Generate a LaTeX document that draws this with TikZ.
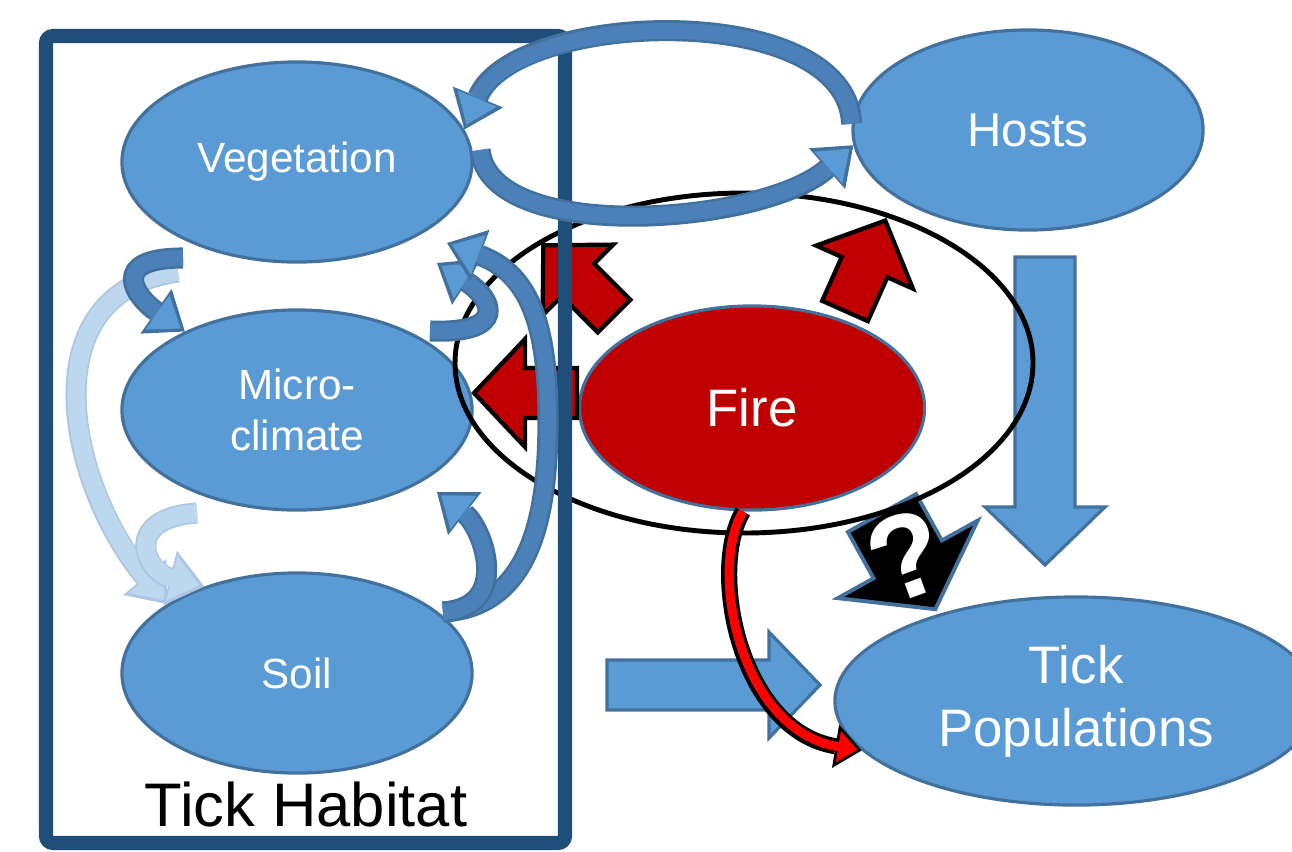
\documentclass[tikz,border=0pt]{standalone}
\usepackage{fontspec}
\setmainfont{Liberation Sans}
\usetikzlibrary{arrows.meta,shapes.geometric}
\definecolor{tickblue}{RGB}{91,155,213}
\definecolor{edgeblue}{RGB}{65,113,156}
\definecolor{bandblue}{RGB}{76,128,184}
\definecolor{boxblue}{RGB}{31,78,121}
\definecolor{firered}{RGB}{192,0,0}
\definecolor{flamered}{RGB}{255,0,0}
\definecolor{paleblue}{RGB}{189,215,238}
\definecolor{paleedge}{RGB}{172,199,228}
\tikzset{
    factor/.style={ellipse,draw=edgeblue,fill=tickblue,line width=0.9pt,text=white,align=center,
        inner sep=0pt,minimum width=3.5cm,minimum height=2cm,font=\fontsize{12}{14.5}\selectfont},
    firenode/.style={factor,fill=firered,minimum width=3.45cm,minimum height=2.04cm,font=\fontsize{15}{18}\selectfont},
    firering/.style={draw=black,line width=1.4pt},
    habitatbox/.style={draw=boxblue,line width=4pt,rounded corners=2pt},
    redblock/.style={fill=firered,draw=black,line width=1.2pt},
    blueblock/.style={fill=tickblue,draw=edgeblue,line width=0.9pt},
    askblock/.style={fill=black,draw=edgeblue,line width=1.1pt},
    feedback/.style={draw=bandblue,line width=4.5pt,shorten >=1.5pt,
        -{Triangle[width=12pt,length=8pt,line width=0pt,fill=tickblue]},
        preaction={draw=edgeblue,line width=6pt,shorten >=0pt,-{Triangle[width=15.5pt,length=10pt,line width=0pt]}}},
    paleloop/.style={draw=paleblue,line width=5pt,shorten >=1.5pt,
        -{Triangle[width=13pt,length=8pt,line width=0pt]},
        preaction={draw=paleedge,line width=6pt,shorten >=0pt,-{Triangle[width=16pt,length=10pt,line width=0pt]}}},
    burn/.style={draw=flamered,line width=2.6pt,shorten >=1.2pt,
        -{Triangle[width=9pt,length=5.5pt,line width=0pt]},
        preaction={draw=black,line width=4.6pt,shorten >=0pt,-{Triangle[width=12.5pt,length=7.5pt,line width=0pt]}}}
}
% style, tail, angle, length, half shaft, half head, head length
\newcommand{\blockarrow}[7]{%
    \draw[#1,shift={#2},rotate=#3] (0,-#5) -- (#4-#7,-#5) -- (#4-#7,-#6) -- (#4,0)
        -- (#4-#7,#6) -- (#4-#7,#5) -- (0,#5) -- cycle;}

\begin{document}
\begin{tikzpicture}[x=0.01cm,y=-0.01cm]
    \useasboundingbox (0,0) rectangle (1292,851);
    \clip (0,0) rectangle (1292,851);
    % Habitat factors
    \node[factor] (veg) at (297,162) {Vegetation};
    \node[factor] (micro) at (297,410) {Micro-\\climate};
    \node[factor] (soil) at (297,673) {Soil};
    % Hosts, fire, ticks
    \node[factor,font=\fontsize{13.5}{16}\selectfont] (hosts) at (1028,130) {Hosts};
    \node[firenode] (fire) at (752,408) {Fire};
    \node[factor,minimum width=4.82cm,minimum height=2.08cm,font=\fontsize{15}{18}\selectfont] (ticks) at (1076,701) {Tick\\Populations};
    % Block arrows
    \blockarrow{blueblock}{(1045,257)}{-90}{308}{30}{60}{58}
    \blockarrow{blueblock}{(607,685)}{0}{213}{25}{53}{51}
    \blockarrow{askblock}{(882,513)}{-61}{110}{39}{80}{57}
    \node[text=white,rotate=20,font=\bfseries\fontsize{34}{34}\selectfont] (ask) at (907,556) {?};
    % Fire effects
    \draw[firering] (744,363) ellipse (289 and 170);
    \blockarrow{redblock}{(577,393)}{180}{103}{25}{54}{51}
    \blockarrow{redblock}{(614,316)}{135}{100}{23}{50}{49}
    \blockarrow{redblock}{(845,311)}{66}{99}{25}{53}{51}
    % Habitat frame
    \draw[habitatbox] (46,36) rectangle (565,843);
    \node[font=\fontsize{17.5}{21}\selectfont] (habitatlabel) at (306,804) {Tick Habitat};
    % Feedback loops
    \coordinate (vegL) at (183,258);
    \coordinate (vegLL) at (178,272);
    \coordinate (microL) at (197,513);
    \coordinate (microR) at (430,331);
    \coordinate (microB) at (437,492);
    \coordinate (soilR) at (443,612);
    \coordinate (vegA) at (437,263);
    \coordinate (vegB) at (447,243);
    \coordinate (vegE) at (480,150);
    \draw[paleloop] (vegLL) .. controls +(-150,20) and +(-100,-120) .. (soil.152);
    \draw[paleloop] (microL) .. controls +(-75,5) and +(-60,-15) .. (soil.137);
    \draw[feedback] (vegL) .. controls +(-75,0) and +(-50,-35) .. (micro.145);
    \draw[feedback] (microR) .. controls +(80,3) and +(55,35) .. (vegA);
    \draw[feedback] (soilR) .. controls +(90,-5) and +(0,90) .. (548,420) .. controls +(0,-100) and +(80,30) .. (vegB);
    \draw[feedback] (soilR) .. controls +(70,-5) and +(45,35) .. (microB);
    \draw[feedback] (hosts.178) .. controls +(-5,-125) and +(50,-120) .. (veg.11);
    \draw[feedback] (vegE) .. controls +(10,95) and +(-90,80) .. (hosts.185);
    % Fire to ticks
    \draw[burn] (fire.-95) .. controls +(-35,58) and +(-122,-20) .. (ticks.193);
\end{tikzpicture}
\end{document}
